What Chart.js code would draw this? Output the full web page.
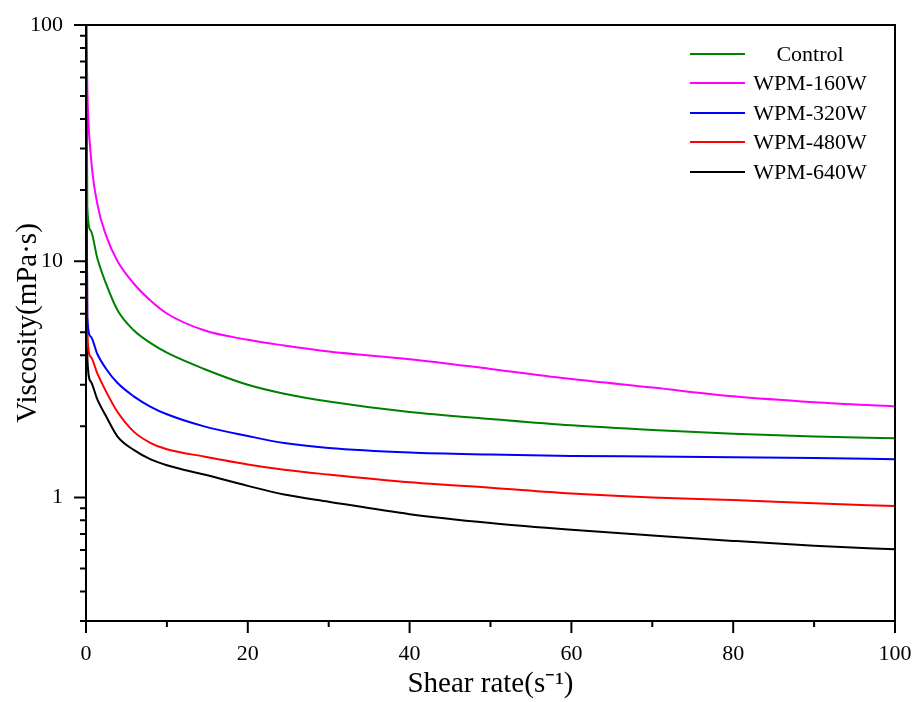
<!DOCTYPE html>
<html>
<head>
<meta charset="utf-8">
<title>Viscosity vs shear rate</title>
<script src="https://cdn.jsdelivr.net/npm/chart.js@4.4.1/dist/chart.umd.min.js"></script>
<style>
    body { margin: 0; background: #fff; }
    #wrap { position: relative; width: 915px; height: 702px; }
    #chartLegend {
        position: absolute; left: 690px; top: 39px;
        font-family: "Liberation Serif", "Times New Roman", serif;
        font-size: 22px; color: #000;
    }
    .legend-item { display: flex; align-items: center; height: 29.5px; }
    .legend-line { width: 55px; height: 2px; margin-right: 6px; }
    .legend-text { width: 118px; text-align: center; white-space: nowrap; }
</style>
</head>
<body>
<div id="wrap">
    <canvas id="viscChart"></canvas>
    <div id="chartLegend"></div>
</div>
<script>
// shear rate (s^-1) sample points
const shearRate = [0.05, 0.16, 0.58, 1.4, 2.5, 3.9, 5.9, 8, 10, 14.6, 20, 24.5, 30, 40, 50, 60, 70, 80, 90, 100];

// viscosity (mPa·s)
const control = [100, 17, 13.5, 10.3, 8.0, 6.2, 5.1, 4.5, 4.1, 3.5, 3.0, 2.75, 2.55, 2.3, 2.15, 2.02, 1.93, 1.86, 1.81, 1.78];
const wpm160  = [100, 54.5, 28.5, 17.5, 12.8, 10.0, 8.05, 6.8, 6.01, 5.1, 4.65, 4.4, 4.15, 3.85, 3.5, 3.17, 2.92, 2.68, 2.53, 2.43];
const wpm320  = [46, 5.8, 4.8, 4.05, 3.5, 3.05, 2.68, 2.42, 2.25, 2.0, 1.82, 1.70, 1.62, 1.55, 1.52, 1.50, 1.49, 1.48, 1.47, 1.45];
const wpm480  = [44, 4.95, 3.94, 3.35, 2.8, 2.3, 1.9, 1.70, 1.6, 1.49, 1.38, 1.31, 1.25, 1.16, 1.10, 1.04, 1.0, 0.975, 0.945, 0.92];
const wpm640  = [16, 3.94, 3.1, 2.6, 2.2, 1.81, 1.59, 1.45, 1.37, 1.25, 1.12, 1.03, 0.96, 0.85, 0.78, 0.73, 0.69, 0.655, 0.625, 0.603];

const seriesNames = ['Control', 'WPM-160W', 'WPM-320W', 'WPM-480W', 'WPM-640W'];

// labelled ticks
const xTickLabels = [0, 20, 40, 60, 80, 100];
const yTickLabels = [1, 10, 100];

const FONT = '"Liberation Serif", "Times New Roman", serif';

function toPoints(values) {
    return shearRate.map((s, i) => ({ x: s, y: values[i] }));
}

// log ticks: 2..9 minor marks in every decade
function logTickValues(min, max) {
    const out = [];
    [0.1, 1, 10].forEach(d => {
        for (let m = 1; m <= 9; m++) {
            const v = Number((m * d).toPrecision(3));
            if (v >= min && v <= max) out.push(v);
        }
    });
    out.push(100);
    return out;
}

// box around plot + outward tick marks (long = labelled, short = minor)
const frameAndTicks = {
    id: 'frameAndTicks',
    afterDraw(chart) {
        const { ctx, chartArea: a, scales: { x, y } } = chart;
        ctx.save();
        ctx.strokeStyle = '#000';
        ctx.lineWidth = 2;
        ctx.strokeRect(a.left, a.top, a.right - a.left, a.bottom - a.top);
        ctx.beginPath();
        x.ticks.forEach(t => {
            const px = x.getPixelForValue(t.value);
            const len = xTickLabels.includes(t.value) ? 12 : 6;
            ctx.moveTo(px, a.bottom);
            ctx.lineTo(px, a.bottom + len);
        });
        y.ticks.forEach(t => {
            const py = y.getPixelForValue(t.value);
            const len = yTickLabels.includes(t.value) ? 12 : 6;
            ctx.moveTo(a.left, py);
            ctx.lineTo(a.left - len, py);
        });
        ctx.stroke();
        ctx.restore();
    }
};

const colors = ['#008000', '#ff00ff', '#0000ff', '#ff0000', '#000000'];
const allSeries = [control, wpm160, wpm320, wpm480, wpm640];

const ctx = document.getElementById('viscChart').getContext('2d');
new Chart(ctx, {
    type: 'line',
    data: {
        datasets: allSeries.map((vals, i) => ({
            label: seriesNames[i],
            data: toPoints(vals),
            borderColor: colors[i],
            backgroundColor: colors[i],
            borderWidth: 2,
            pointRadius: 0,
            fill: false,
            cubicInterpolationMode: 'monotone'
        }))
    },
    options: {
        responsive: true,
        maintainAspectRatio: false,
        animation: false,
        layout: { padding: { top: 25, right: 20, left: 0, bottom: 0 } },
        plugins: {
            legend: { display: false },
            tooltip: { enabled: false }
        },
        scales: {
            x: {
                type: 'linear',
                min: 0,
                max: 100,
                // hidden grid; tickLength only spaces the labels (ticks.padding would also pad the chart area)
                grid: { display: false, drawTicks: true, tickLength: 20 },
                border: { display: false },
                ticks: {
                    stepSize: 10,
                    autoSkip: false,
                    maxRotation: 0,
                    padding: 0,
                    color: '#000',
                    font: { family: FONT, size: 22 },
                    callback: v => xTickLabels.includes(v) ? v : ''
                },
                title: {
                    display: true,
                    text: 'Shear rate(s\u207B\u00B9)',
                    color: '#000',
                    font: { family: FONT, size: 29 },
                    padding: { top: 0, bottom: 0 }
                },
                afterFit: scale => { scale.height = 81; }
            },
            y: {
                type: 'logarithmic',
                min: 0.3,
                max: 100,
                grid: { display: false, drawTicks: true, tickLength: 23 },
                border: { display: false },
                afterBuildTicks: scale => {
                    scale.ticks = logTickValues(0.3, 100).map(v => ({ value: v }));
                },
                ticks: {
                    autoSkip: false,
                    padding: 0,
                    color: '#000',
                    font: { family: FONT, size: 22 },
                    callback: v => yTickLabels.includes(v) ? String(v) : ''
                },
                title: {
                    display: true,
                    text: 'Viscosity(mPa\u00B7s)',
                    color: '#000',
                    font: { family: FONT, size: 29 },
                    padding: { top: 11, bottom: 0 }
                },
                afterFit: scale => { scale.width = 86; }
            }
        }
    },
    plugins: [frameAndTicks]
});

function createCustomLegend(labels, cols) {
    const legendContainer = document.getElementById('chartLegend');
    legendContainer.innerHTML = '';
    labels.forEach((label, index) => {
        const item = document.createElement('div');
        item.className = 'legend-item';
        const line = document.createElement('div');
        line.className = 'legend-line';
        line.style.backgroundColor = cols[index];
        const text = document.createElement('span');
        text.className = 'legend-text';
        text.textContent = label;
        item.appendChild(line);
        item.appendChild(text);
        legendContainer.appendChild(item);
    });
}

createCustomLegend(seriesNames, colors);
</script>
</body>
</html>
